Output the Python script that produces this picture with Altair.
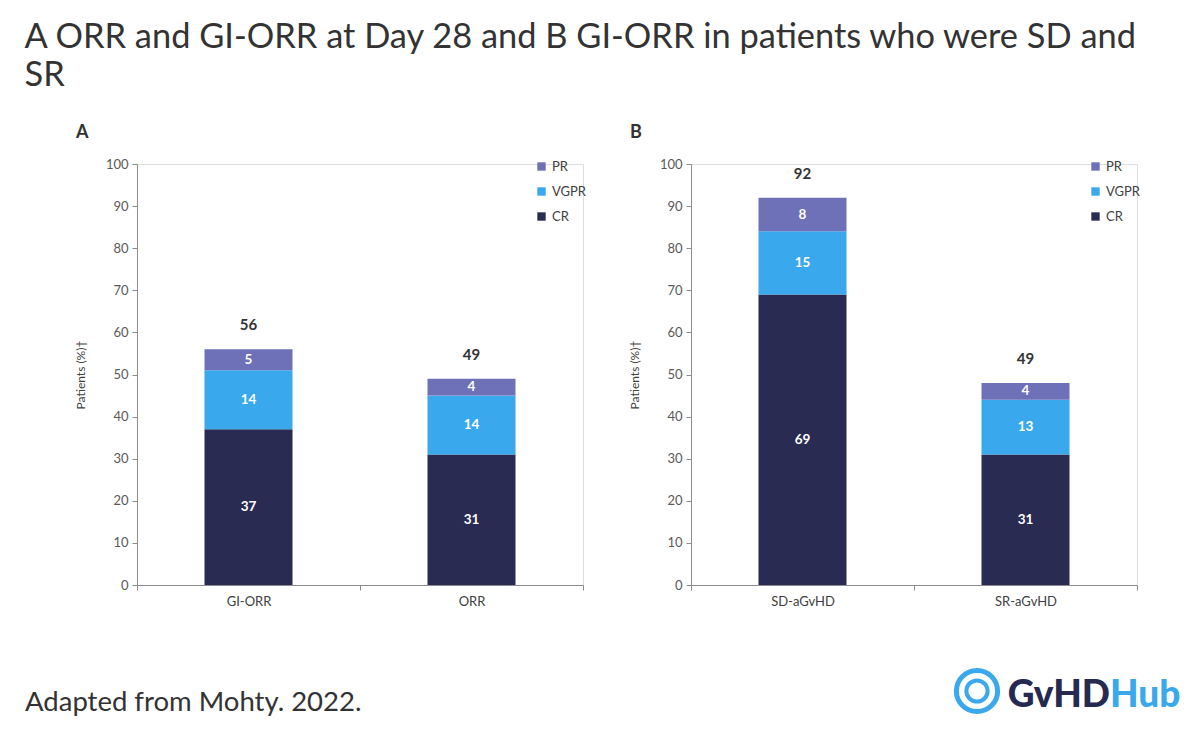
import altair as alt
import pandas as pd

# ---------------- data ----------------
categories_a = ["GI-ORR", "ORR"]
cr_a = [37, 31]
vgpr_a = [14, 14]
pr_a = [5, 4]
totals_a = [56, 49]

categories_b = ["SD-aGvHD", "SR-aGvHD"]
cr_b = [69, 31]
vgpr_b = [15, 13]
pr_b = [8, 4]
totals_b = [92, 49]

responses = ["PR", "VGPR", "CR"]
colors = ["#6E70B8", "#3AA8EC", "#2A2B52"]

title_lines = ["A ORR and GI-ORR at Day 28 and B GI-ORR in patients who were SD and", "SR"]
footer_text = "Adapted from Mohty. 2022."
logo_dark = "GvHD"
logo_blue = "Hub"
y_title = "Patients (%)\u2020"

FONT = "Lato"
W, H = 446, 421


def panel(letter, cats, cr, vgpr, pr, totals, footer=None):
    rows = []
    for i, c in enumerate(cats):
        rows.append({"cat": c, "resp": "CR", "value": cr[i], "ord": 0})
        rows.append({"cat": c, "resp": "VGPR", "value": vgpr[i], "ord": 1})
        rows.append({"cat": c, "resp": "PR", "value": pr[i], "ord": 2})
    df = pd.DataFrame(rows)
    tdf = pd.DataFrame({
        "cat": cats,
        "top": [cr[i] + vgpr[i] + pr[i] for i in range(len(cats))],
        "total": totals,
    })

    xenc = alt.X("cat:N", sort=cats, title=None,
                 scale=alt.Scale(paddingInner=0, paddingOuter=0),
                 axis=alt.Axis(labelAngle=0, tickBand="extent", tickSize=5,
                               labelPadding=5, labelFontSize=13, labelColor="#404040",
                               domainColor="#8c8c8c", tickColor="#8c8c8c", labelFont=FONT))
    yscale = alt.Scale(domain=[0, 100], nice=False)

    bars = alt.Chart(df).mark_bar(size=88).encode(
        x=xenc,
        y=alt.Y("value:Q", stack="zero", scale=yscale, title=y_title,
                axis=alt.Axis(values=list(range(0, 101, 10)), tickSize=5, grid=False,
                              labelFontSize=13, labelColor="#595959", labelPadding=4,
                              domainColor="#8c8c8c", tickColor="#8c8c8c",
                              titleFontSize=12, titleFontWeight="normal", titleColor="#404040",
                              titlePadding=18, titleFont=FONT, labelFont=FONT)),
        color=alt.Color("resp:N", scale=alt.Scale(domain=responses, range=colors),
                        legend=alt.Legend(title=None, orient="none", legendX=398, legendY=-4,
                                          symbolType="square", symbolSize=70,
                                          labelFontSize=13, labelColor="#404040",
                                          labelFont=FONT, rowPadding=11, labelOffset=4,
                                          symbolStrokeWidth=0)),
        order=alt.Order("ord:Q"),
    )

    seg = alt.Chart(df).transform_stack(
        stack="value", groupby=["cat"], sort=[alt.SortField("ord")], as_=["y0", "y1"]
    ).transform_calculate(mid="(datum.y0 + datum.y1) / 2").mark_text(
        color="white", fontWeight="bold", fontSize=13.5, font=FONT, baseline="middle"
    ).encode(
        x=alt.X("cat:N", sort=cats),
        y=alt.Y("mid:Q", scale=yscale),
        text=alt.Text("value:Q"),
    )

    tot = alt.Chart(tdf).mark_text(
        color="#333333", fontWeight="bold", fontSize=15, font=FONT, baseline="middle", dy=-24
    ).encode(
        x=alt.X("cat:N", sort=cats),
        y=alt.Y("top:Q", scale=yscale),
        text=alt.Text("total:Q"),
    )

    layers = [bars, seg, tot]
    if footer == "left":
        fdf = pd.DataFrame({"t": [footer_text]})
        layers.append(alt.Chart(fdf).mark_text(
            align="left", baseline="alphabetic", fontSize=27.5, font=FONT, color="#333333"
        ).encode(x=alt.value(-112), y=alt.value(547), text="t:N"))
    if footer == "right":
        d1 = pd.DataFrame({"t": [logo_dark]})
        d2 = pd.DataFrame({"t": [logo_blue]})
        layers.append(alt.Chart(d1).mark_text(
            align="right", baseline="alphabetic", fontSize=37, fontWeight=900, font=FONT,
            color="#262A50"
        ).encode(x=alt.value(419), y=alt.value(543), text="t:N"))
        layers.append(alt.Chart(d2).mark_text(
            align="left", baseline="alphabetic", fontSize=37, fontWeight=900, font=FONT,
            color="#3AA8EC"
        ).encode(x=alt.value(419), y=alt.value(543), text="t:N"))
        ring = pd.DataFrame({"t": ["o"]})
        layers.append(alt.Chart(ring).mark_point(
            shape="circle", filled=False, strokeWidth=5, color="#3AA8EC", size=1700, opacity=1
        ).encode(x=alt.value(286), y=alt.value(527)))
        layers.append(alt.Chart(ring).mark_point(
            shape="circle", filled=False, strokeWidth=4, color="#3AA8EC", size=450, opacity=1
        ).encode(x=alt.value(286), y=alt.value(527)))

    return alt.layer(*layers).properties(
        width=W, height=H,
        title=alt.TitleParams(letter, anchor="start", frame="group", dx=-61, offset=16,
                              fontSize=18, fontWeight="bold", color="#333333", font=FONT),
    )


pa = panel("A", categories_a, cr_a, vgpr_a, pr_a, totals_a, footer="left")
pb = panel("B", categories_b, cr_b, vgpr_b, pr_b, totals_b, footer="right")

chart = alt.hconcat(pa, pb, spacing=40).resolve_legend(color="independent").properties(
    title=alt.TitleParams(title_lines, anchor="start", frame="bounds", fontSize=34.4,
                          fontWeight="normal", color="#333333", font=FONT,
                          lineHeight=38, offset=30),
    padding={"left": 16, "top": 12, "right": 4, "bottom": 0},
).configure_view(stroke=None).configure(font=FONT)

chart.save("out.html", embed_options={"renderer": "svg", "actions": False})
